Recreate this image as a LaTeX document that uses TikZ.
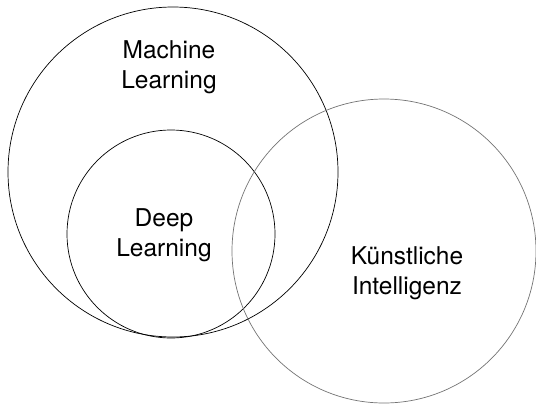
\documentclass[tikz,border=0pt]{standalone}
\usepackage{fontspec}
\setmainfont{TeX Gyre Heros}
\usepackage{tikz}
\usetikzlibrary{positioning}

\begin{document}
\begin{tikzpicture}[x=1pt, y=-1pt,
	ring/.style={circle, draw, line width=0.7pt, inner sep=0},
	areatext/.style={font=\fontsize{24.5}{30}\selectfont, align=center, inner sep=0}
]
\useasboundingbox (0,0) rectangle (536,405);

\node[ring, minimum size=330] (ml) at (173,172) {};
\node[ring, minimum size=208] (dl) at (171,234) {};
\node[ring, draw=black!55, minimum size=304] (ki) at (384,251) {};

\node[areatext] (mltext) at (169,67) {Machine\\Learning};
\node[areatext] (dltext) at (164,235) {Deep\\Learning};
\node[areatext] (kitext) at (407,273) {Künstliche\\Intelligenz};
\end{tikzpicture}
\end{document}
